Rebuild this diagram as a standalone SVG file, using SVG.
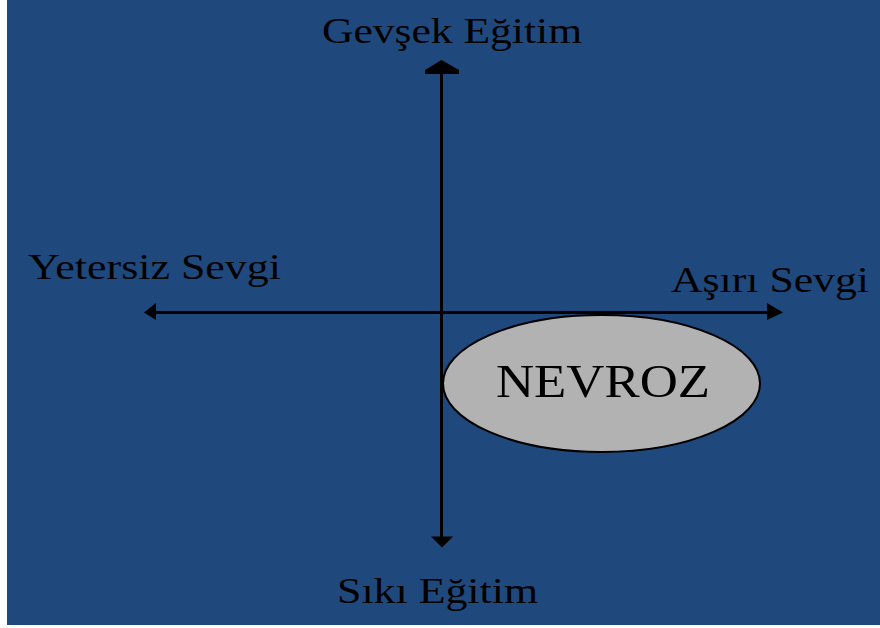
<svg xmlns="http://www.w3.org/2000/svg" width="880" height="628" viewBox="0 0 880 628">
<style>
.lbl{font-family:"Liberation Serif","Times New Roman",serif;fill:#000;font-size:36px}
.ax{stroke:#000;stroke-width:3;fill:none}
.hd{fill:#000;stroke:none}
</style>
<rect x="0" y="0" width="880" height="628" fill="#ffffff"/>
<rect x="7" y="0" width="873" height="625" fill="#1F497D"/>
<g id="connectors">
<line class="ax" x1="441.5" y1="72" x2="441.5" y2="538"/>
<line class="ax" x1="155" y1="312.5" x2="768" y2="312.5"/>
<path class="hd" d="M441.5,60 L459,70 L459,74 L425,74 L425,70 Z"/>
<path class="hd" d="M431,536.5 L453,536.5 L442,547.5 Z"/>
<path class="hd" d="M144,312.5 L156,303 L156,320 Z"/>
<path class="hd" d="M783,312.5 L767,303 L767,320 Z"/>
</g>
<g id="nevroz">
<ellipse cx="601.5" cy="383.5" rx="158.5" ry="68.5" fill="#B2B2B2" stroke="#000" stroke-width="2"/>
<text class="lbl" x="496" y="397" style="font-size:46px" textLength="214" lengthAdjust="spacingAndGlyphs">NEVROZ</text>
</g>
<g id="gevsek">
<text class="lbl" x="322" y="43" textLength="260" lengthAdjust="spacingAndGlyphs">Gevşek Eğitim</text>
</g>
<g id="yetersiz">
<text class="lbl" x="28" y="279" textLength="253" lengthAdjust="spacingAndGlyphs">Yetersiz Sevgi</text>
</g>
<g id="asiri">
<text class="lbl" x="671" y="292" textLength="198" lengthAdjust="spacingAndGlyphs">Aşırı Sevgi</text>
</g>
<g id="siki">
<text class="lbl" x="337" y="603" textLength="201" lengthAdjust="spacingAndGlyphs">Sıkı Eğitim</text>
</g>
</svg>
